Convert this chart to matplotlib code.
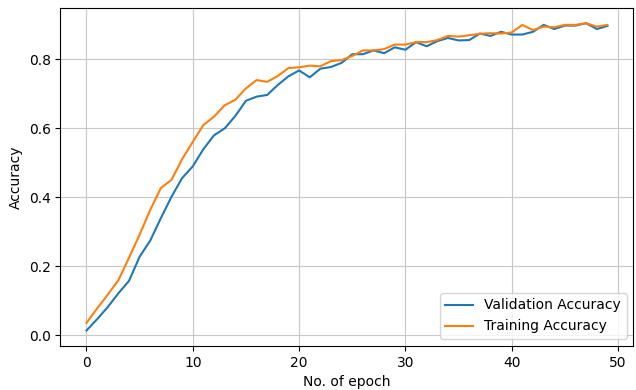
import matplotlib
matplotlib.use("Agg")
import matplotlib.pyplot as plt

# precision por epoca
val_acc = [0.014, 0.047, 0.082, 0.122, 0.158, 0.228, 0.275, 0.340, 0.402, 0.456,
           0.490, 0.540, 0.580, 0.600, 0.636, 0.680, 0.692, 0.697, 0.726, 0.751,
           0.768, 0.748, 0.773, 0.778, 0.790, 0.815, 0.815, 0.826, 0.818, 0.835,
           0.828, 0.850, 0.838, 0.853, 0.862, 0.855, 0.856, 0.875, 0.868, 0.880,
           0.872, 0.872, 0.880, 0.900, 0.888, 0.898, 0.898, 0.905, 0.888, 0.897]
train_acc = [0.036, 0.078, 0.118, 0.160, 0.225, 0.292, 0.364, 0.427, 0.451, 0.511,
             0.561, 0.610, 0.634, 0.667, 0.683, 0.716, 0.740, 0.735, 0.752, 0.775,
             0.777, 0.782, 0.780, 0.795, 0.798, 0.810, 0.826, 0.826, 0.830, 0.843,
             0.843, 0.850, 0.850, 0.856, 0.868, 0.866, 0.870, 0.874, 0.876, 0.875,
             0.878, 0.900, 0.885, 0.895, 0.893, 0.900, 0.900, 0.905, 0.895, 0.900]
epochs = list(range(len(val_acc)))

fig, ax = plt.subplots(figsize=(6.36, 3.9), dpi=100)
fig.subplots_adjust(left=0.095, right=0.996, top=0.98, bottom=0.113)

ax.plot(epochs, val_acc, label="Validation Accuracy")
ax.plot(epochs, train_acc, label="Training Accuracy")
ax.set_xlabel("No. of epoch")
ax.set_ylabel("Accuracy")
ax.grid(True, color="#c8c8c8")
ax.legend(loc="lower right")

fig.savefig("out.png")
